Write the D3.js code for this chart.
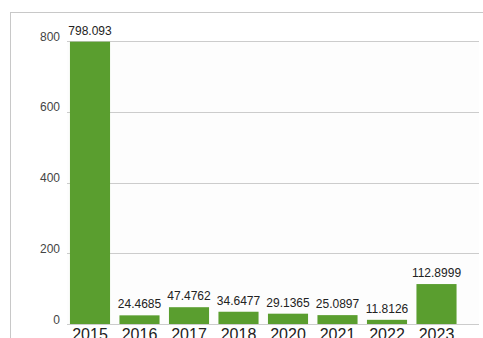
<!DOCTYPE html>
<html>
<head>
<meta charset="utf-8">
<script src="https://cdn.jsdelivr.net/npm/d3@7/dist/d3.min.js"></script>
<style>
  html, body { margin: 0; padding: 0; background: #fff; overflow: hidden; }
  svg { display: block; font-family: "Liberation Sans", Arial, sans-serif; }
</style>
</head>
<body>
<svg id="chart" width="483" height="338"></svg>
<script>
const categories = ["2015", "2016", "2017", "2018", "2020", "2021", "2022", "2023"];
const values = [798.093, 24.4685, 47.4762, 34.6477, 29.1365, 25.0897, 11.8126, 112.8999];
const valueLabels = ["798.093", "24.4685", "47.4762", "34.6477", "29.1365", "25.0897", "11.8126", "112.8999"];
const yTicks = [0, 200, 400, 600, 800];

const svg = d3.select("#chart");

// outer frame
svg.append("rect")
  .attr("x", 10.5).attr("y", 12.5)
  .attr("width", 490).attr("height", 400)
  .attr("fill", "#fff").attr("stroke", "#c8c8c8").attr("stroke-width", 1);

const plotLeft = 67, plotRight = 479, plotTop = 41, plotBottom = 324;

svg.append("rect")
  .attr("x", plotLeft).attr("y", plotTop)
  .attr("width", plotRight - plotLeft).attr("height", plotBottom - plotTop)
  .attr("fill", "#fdfdfd");

const y = d3.scaleLinear().domain([0, 800]).range([plotBottom, plotTop]);
const x = d3.scaleBand().domain(categories).range([65.25, 461.25])
  .paddingInner(0.19).paddingOuter(0.095);

// gridlines
svg.append("g").selectAll("line").data(yTicks).join("line")
  .attr("x1", plotLeft).attr("x2", plotRight)
  .attr("y1", d => Math.round(y(d)) + 0.5).attr("y2", d => Math.round(y(d)) + 0.5)
  .attr("stroke", "#cccccc").attr("stroke-width", 1);

// y axis labels
const yAxis = d3.axisLeft(y).tickValues(yTicks).tickSize(0).tickPadding(0);
const gy = svg.append("g").attr("transform", "translate(60,0)").call(yAxis);
gy.select(".domain").remove();
gy.selectAll("text")
  .attr("dy", null)
  .attr("y", -1)
  .attr("font-size", 12)
  .attr("font-family", "Liberation Sans, Arial, sans-serif")
  .attr("fill", "#444");

// bars
svg.append("g").selectAll("rect").data(values).join("rect")
  .attr("x", (d, i) => x(categories[i]))
  .attr("width", x.bandwidth())
  .attr("y", d => y(d))
  .attr("height", d => plotBottom - y(d))
  .attr("fill", "#5a9e2f");

// value labels
svg.append("g").selectAll("text").data(values).join("text")
  .attr("x", (d, i) => x(categories[i]) + x.bandwidth() / 2)
  .attr("y", d => y(d) - 7)
  .attr("text-anchor", "middle")
  .attr("font-size", 12)
  .attr("fill", "#222")
  .text((d, i) => valueLabels[i]);

// x axis labels
const xAxis = d3.axisBottom(x).tickSize(0).tickPadding(0);
const gx = svg.append("g").attr("transform", `translate(0,${plotBottom})`).call(xAxis);
gx.select(".domain").remove();
gx.selectAll("text")
  .attr("dy", null)
  .attr("y", 15.5)
  .attr("font-size", 16)
  .attr("font-family", "Liberation Sans, Arial, sans-serif")
  .attr("fill", "#222");
</script>
</body>
</html>
